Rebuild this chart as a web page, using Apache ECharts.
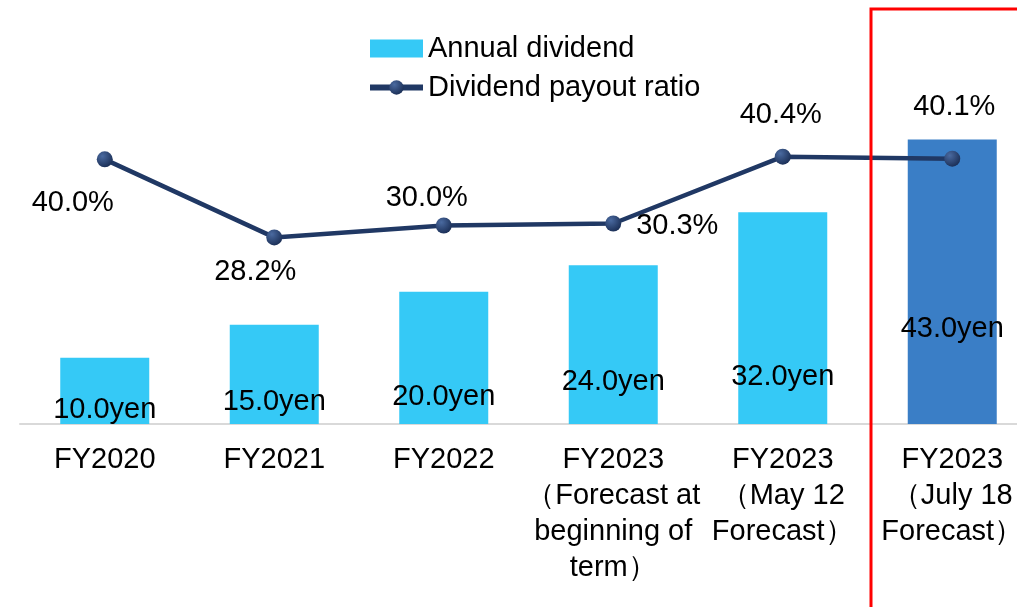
<!DOCTYPE html>
<html>
<head>
<meta charset="utf-8">
<script src="https://cdn.jsdelivr.net/npm/echarts@6/dist/echarts.min.js"></script>
<style>
html,body{margin:0;padding:0;background:#fff;}
#chart{width:1017px;height:607px;}
</style>
</head>
<body>
<div id="chart"></div>
<script>
// data
var categories = ['FY2020', 'FY2021', 'FY2022',
    'FY2023\n（Forecast at\nbeginning of\nterm）',
    'FY2023\n（May 12\nForecast）',
    'FY2023\n（July 18\nForecast）'];
var dividends = [10.0, 15.0, 20.0, 24.0, 32.0, 43.0];
var payoutRatios = [40.0, 28.2, 30.0, 30.3, 40.4, 40.1];

// label placement (px), kept apart from the data
var barLabelLift = [0, 8, 13, 28, 33, 81];
var ratioLabelOffset = [[-32, 44], [-19, 35], [-17, -28], [64, 2], [-2, -42], [2, -52]];

var font = 'Liberation Sans, Arial, sans-serif';
var barColor = '#35c9f6';
var latestColor = '#3a7ec6';
var lineColor = '#203864';
var ballColor = new echarts.graphic.RadialGradient(0.35, 0.3, 0.8, [
    { offset: 0, color: '#4a6aa0' },
    { offset: 1, color: '#172a50' }
]);

var chart = echarts.init(document.getElementById('chart'));

var barData = dividends.map(function (v, i) {
    var item = { value: v, label: { distance: barLabelLift[i] } };
    if (i === dividends.length - 1) item.itemStyle = { color: latestColor };
    return item;
});
var lineData = payoutRatios.map(function (v, i) {
    return { value: v, label: { offset: ratioLabelOffset[i] } };
});

var option = {
    animation: false,
    backgroundColor: '#fff',
    textStyle: { fontFamily: font },
    legend: {
        orient: 'vertical',
        left: 362,
        top: 29,
        itemWidth: 53,
        itemHeight: 18,
        itemGap: 10,
        textStyle: { fontSize: 29, color: '#000', fontFamily: font },
        data: [
            { name: 'Annual dividend', icon: 'rect', itemStyle: { color: barColor } },
            {
                name: 'Dividend payout ratio',
                lineStyle: { color: lineColor, width: 6 },
                itemStyle: { color: ballColor }
            }
        ]
    },
    grid: {
        left: 20,
        width: 1017,
        top: 27,
        bottom: 183,
        containLabel: false,
        outerBoundsMode: 'none'
    },
    xAxis: {
        type: 'category',
        data: categories,
        axisLine: { lineStyle: { color: '#d9d9d9', width: 2 } },
        axisTick: { show: false },
        axisLabel: {
            interval: 0,
            color: '#000',
            fontSize: 29,
            lineHeight: 36,
            margin: 18,
            fontFamily: font
        }
    },
    yAxis: [
        { type: 'value', min: 0, max: 60, show: false },
        { type: 'value', min: 0, max: 60, show: false }
    ],
    series: [
        {
            name: 'Annual dividend',
            type: 'bar',
            barWidth: 89,
            data: barData,
            itemStyle: { color: barColor },
            label: {
                show: true,
                position: 'insideBottom',
                color: '#000',
                fontSize: 29,
                fontFamily: font,
                formatter: function (p) { return p.value.toFixed(1) + 'yen'; }
            }
        },
        {
            name: 'Dividend payout ratio',
            type: 'line',
            yAxisIndex: 1,
            data: lineData,
            lineStyle: { color: lineColor, width: 4.5 },
            symbol: 'circle',
            symbolSize: 16,
            itemStyle: { color: ballColor },
            label: {
                show: true,
                position: 'inside',
                color: '#000',
                fontSize: 29,
                fontFamily: font,
                formatter: function (p) { return p.value.toFixed(1) + '%'; }
            },
            z: 5
        }
    ],
    graphic: [
        {
            type: 'rect',
            shape: { x: 871, y: 9, width: 200, height: 700 },
            style: { fill: 'none', stroke: '#ff0000', lineWidth: 3 },
            z: 100
        }
    ]
};

chart.setOption(option);
</script>
</body>
</html>
